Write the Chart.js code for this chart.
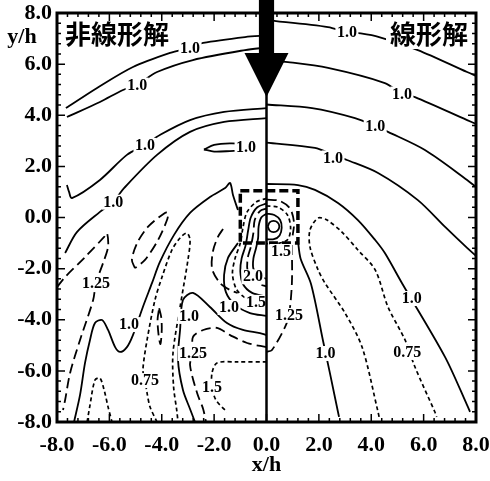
<!DOCTYPE html>
<html>
<head>
<meta charset="utf-8">
<script src="https://cdn.jsdelivr.net/npm/chart.js@4.4.0/dist/chart.umd.min.js"></script>
<style>
  html, body { margin: 0; padding: 0; background: #fff; }
</style>
</head>
<body>
<canvas id="contour" width="490" height="481"></canvas>
<script>
// axis ticks (x/h, y/h)
const xTicks = [-8, -6, -4, -2, 0, 2, 4, 6, 8];
const yTicks = [-8, -6, -4, -2, 0, 2, 4, 6, 8];

// left half: 非線形解 contours, [x/h, y/h]
const nlA = [[-7.66,4.28],[-6.47,5.07],[-5.10,5.89],[-3.68,6.44],[-2.90,6.65],[-2.42,6.83],[-0.82,7.06],[0,7.12]];
const nlB = [[-7.62,3.93],[-6.36,4.52],[-5.48,4.99],[-4.94,5.20],[-4.18,5.69],[-2.81,6.16],[-0.82,6.55],[0,6.65]];
const nlC = [[-7.62,1.27],[-7.54,1.0],[-7.43,0.76],[-6.36,1.47],[-5.33,2.45],[-4.64,2.84],[-4.07,3.23],[-2.92,3.81],[-1.62,4.13],[0,4.28]];
const nlD = [[-7.69,-1.39],[-7.24,-0.57],[-6.36,0.22],[-5.85,0.62],[-5.44,1.15],[-4.18,2.45],[-2.92,3.35],[-1.62,3.74],[0,3.89]];
const nlLoop = [[-2.39,2.66],[-2.0,2.84],[-1.4,2.90],[-0.8,2.86],[-0.6,2.76],[-0.8,2.64],[-1.4,2.60],[-2.0,2.58],[-2.39,2.66]];
const nlBump = [[-7.35,-8.0],[-7.12,-6.94],[-6.93,-5.69],[-6.74,-4.79],[-6.55,-4.13],[-6.28,-4.01],[-6.05,-4.40],[-5.78,-5.07],[-5.59,-5.26],[-5.33,-5.07],[-5.10,-4.60],[-4.72,-3.50],[-4.37,-2.56],[-4.07,-1.74],[-3.53,-0.68],[-2.92,0.18],[-2.16,0.80],[-1.58,1.15],[-1.39,1.35],[-1.28,0.88],[-1.09,0.29]];
const nlPeak = [[0,-4.60],[-0.25,-4.52],[-0.90,-4.40],[-1.51,-4.13],[-2.16,-3.50],[-2.81,-2.95],[-3.19,-3.23],[-3.30,-4.40],[-3.38,-5.57],[-3.19,-6.75],[-2.92,-7.49],[-2.73,-8.0]];
const nlU2 = [[0,0.55],[-0.35,0.4],[-0.6,0.0],[-0.7,-0.5],[-0.8,-1.1],[-0.95,-1.6],[-1.0,-2.1],[-0.9,-2.6],[-0.55,-2.95],[0,-3.1]];
const nlU4 = [[0,0.15],[-0.2,0.0],[-0.3,-0.35],[-0.32,-0.8],[-0.4,-1.2],[-0.5,-1.6],[-0.5,-2.0],[-0.3,-2.3],[0,-2.4]];
const nlC2 = [[-1.09,-1.0],[-1.47,-1.58],[-1.62,-2.25],[-1.55,-2.92],[-1.2,-3.42],[-0.63,-3.74],[0,-3.85]];

const nlDashLoop = [[-5.02,-1.98],[-5.14,-1.66],[-4.94,-1.00],[-4.53,-0.37],[-3.88,0.18],[-3.76,0.18],[-3.80,-0.10],[-4.14,-0.88],[-4.64,-1.66],[-5.02,-1.98]];
const nl125a = [[-8.0,-2.72],[-7.69,-2.33],[-6.93,-1.55],[-6.20,-0.76],[-6.09,-0.61],[-6.05,-1.15],[-6.24,-1.78],[-6.51,-2.56],[-6.62,-3.23],[-7.12,-4.79],[-7.50,-6.08],[-7.69,-7.14],[-7.77,-7.53]];
const nlSmallLoop = [[-4.10,-3.55],[-4.02,-3.9],[-4.0,-4.4],[-4.05,-4.95],[-4.12,-4.6],[-4.16,-4.0],[-4.10,-3.55]];
const nl125b = [[0,-5.07],[-0.74,-4.91],[-1.39,-4.60],[-1.89,-4.32],[-2.42,-4.40],[-2.81,-4.68],[-2.81,-5.30],[-2.92,-5.77],[-2.65,-6.87],[-2.42,-7.49],[-2.31,-8.0]];
const nlU3 = [[0,0.35],[-0.25,0.25],[-0.45,-0.1],[-0.5,-0.6],[-0.6,-1.15],[-0.72,-1.6],[-0.72,-2.1],[-0.5,-2.5],[0,-2.7]];
const nlC1 = [[-1.66,-0.45],[-1.85,-0.75],[-2.04,-1.3],[-2.08,-2.0],[-1.78,-2.56],[-1.39,-2.84],[-1.1,-2.95]];

const nl075 = [[-4.18,-8.0],[-4.45,-7.4],[-4.56,-6.87],[-4.64,-6.36],[-4.72,-5.97],[-4.56,-4.79],[-4.26,-3.23],[-3.99,-2.33],[-3.61,-1.27],[-3.30,-0.80],[-3.04,-0.61],[-2.92,-0.88],[-3.0,-1.66],[-3.30,-3.50],[-3.57,-5.30],[-3.55,-6.6],[-3.42,-7.6],[-3.38,-8.0]];
const nlFoot = [[-6.85,-8.0],[-6.74,-7.34],[-6.55,-6.36],[-6.36,-6.28],[-6.20,-6.75],[-6.05,-7.41],[-5.90,-8.0]];
const nl15 = [[0,-5.65],[-1.13,-5.65],[-1.89,-5.69],[-2.08,-6.08],[-2.08,-6.63],[-1.93,-7.14],[-1.51,-7.61]];
const nlU1 = [[0,0.75],[-0.4,0.6],[-0.75,0.2],[-0.9,-0.4],[-1.0,-1.0],[-1.2,-1.6],[-1.3,-2.2],[-1.15,-2.8],[-0.8,-3.15],[-0.3,-3.28],[0,-3.3]];

// right half: 線形解 contours
const lnA = [[0,7.72],[2.35,7.45],[3.07,7.25],[3.6,7.2],[4.3,7.06],[5.78,6.55],[7.66,5.69],[8.0,5.54]];
const lnB = [[0,6.15],[0.82,6.08],[2.35,5.85],[4.52,5.26],[5.17,4.85],[5.67,4.71],[7.66,3.81],[8.0,3.66]];
const lnC = [[0,4.42],[1.74,4.28],[3.38,3.89],[4.15,3.58],[4.64,3.35],[6.05,2.64],[7.66,1.47],[8.0,1.19]];
const lnD = [[0,2.93],[1.85,2.72],[2.54,2.45],[3.07,2.25],[4.26,1.74],[5.78,0.68],[6.82,-0.37],[7.66,-1.19],[8.0,-1.5]];
const lnE = [[0,1.31],[1.2,1.27],[1.85,1.08],[2.73,0.57],[3.49,-0.10],[4.15,-0.88],[4.52,-1.39],[5.17,-2.56],[6.82,-5.46],[7.66,-7.34],[7.77,-7.6]];
const lnInner = [[1.2,-0.9],[1.3,-1.6],[1.7,-2.6],[2.16,-4.83],[2.42,-6.08],[2.73,-7.61],[2.77,-7.8]];
const lnRing1 = [[0.05,-0.35],[0.12,-0.19],[0.27,-0.13],[0.42,-0.19],[0.49,-0.35],[0.42,-0.51],[0.27,-0.57],[0.12,-0.51],[0.05,-0.35]];
const lnRing2 = [[0,0.15],[0.3,0.1],[0.52,-0.1],[0.58,-0.4],[0.5,-0.7],[0.28,-0.85],[0,-0.85]];
const ln125 = [[0.97,-1.08],[0.97,-2.56],[0.86,-3.81],[0.71,-4.28],[0.21,-5.18],[0,-5.26]];
const lnRing4 = [[0,0.7],[0.5,0.65],[0.9,0.35],[1.05,-0.2],[1.0,-0.7]];
const ln075 = [[4.3,-7.8],[4.26,-7.61],[3.65,-5.07],[3.0,-3.74],[2.23,-2.56],[1.97,-2.05],[1.66,-1.15],[1.66,-0.49],[1.97,-0.02],[2.31,-0.10],[2.88,-0.57],[3.49,-1.27],[4.15,-2.05],[4.64,-3.50],[5.29,-4.79],[5.67,-5.85],[6.43,-7.61],[6.5,-7.8]];
const lnRing3 = [[0,0.45],[0.45,0.4],[0.8,0.1],[0.92,-0.4],[0.82,-0.85],[0.5,-1.0],[0,-1.02]];

// building footprint (dashed square)
const building = [[-1.0,1.05],[1.2,1.05],[1.2,-1.0],[-1.0,-1.0],[-1.0,1.05]];

// arrow (x/h, y/h)
const arrowShape = [[-0.29,8.6],[0.29,8.6],[0.29,6.44],[0.84,6.44],[0,4.71],[-0.84,6.44],[-0.29,6.44]];

// contour labels
const labelText = ['1.0','1.0','1.0','1.0','1.0','1.0','1.25','0.75','1.0','1.25','1.5','1.0','1.5','2.0',
                   '1.0','1.0','1.0','1.0','1.0','1.0','0.75','1.25','1.5'];
const labelX = [-2.92,-4.94,-4.64,-5.85,-0.78,-5.25,-6.51,-4.64,-2.96,-2.81,-2.08,-1.43,-0.4,-0.52,
                3.07,5.17,4.15,2.54,5.55,2.25,5.37,0.86,0.55];
const labelY = [6.65,5.20,2.84,0.62,2.76,-4.17,-2.56,-6.36,-3.85,-5.30,-6.63,-3.5,-3.3,-2.3,
                7.25,4.85,3.58,2.35,-3.15,-5.3,-5.26,-3.81,-1.31];

const solidLines = [nlA, nlB, nlC, nlD, nlLoop, nlBump, nlPeak, nlU2, nlU4, nlC2, lnA, lnB, lnC, lnD, lnE, lnInner, lnRing1, lnRing2];
const longDashLines = [nlDashLoop, nl125a, nlSmallLoop, nl125b, nlU3, nlC1, ln125, lnRing4];
const shortDashLines = [nl075, nlFoot, nl15, nlU1, ln075, lnRing3];

function toXY(pts) {
    return pts.map(p => ({ x: p[0], y: p[1] }));
}

function makeSet(pts, dash, width) {
    return {
        data: toXY(pts),
        showLine: true,
        borderColor: '#000',
        borderWidth: width,
        borderDash: dash,
        pointRadius: 0,
        tension: 0.3,
        fill: false
    };
}

let datasets = [];
solidLines.forEach(l => datasets.push(makeSet(l, [], 1.8)));
longDashLines.forEach(l => datasets.push(makeSet(l, [10, 5], 1.8)));
shortDashLines.forEach(l => datasets.push(makeSet(l, [4, 3], 1.7)));
let sq = makeSet(building, [9, 4], 3.5);
sq.tension = 0;
datasets.push(sq);

const serif = '"Liberation Serif", "Times New Roman", serif';

const overlay = {
    id: 'overlay',
    afterDatasetsDraw(chart) {
        const ctx = chart.ctx;
        const a = chart.chartArea;
        const xs = chart.scales.x, ys = chart.scales.y;
        const px = v => xs.getPixelForValue(v);
        const py = v => ys.getPixelForValue(v);
        ctx.save();

        // contour labels on white
        ctx.font = 'bold 16px ' + serif;
        ctx.textAlign = 'center';
        ctx.textBaseline = 'middle';
        for (let i = 0; i < labelText.length; i++) {
            let cx = px(labelX[i]), cy = py(labelY[i]);
            let w = ctx.measureText(labelText[i]).width + 3;
            ctx.fillStyle = '#fff';
            ctx.fillRect(cx - w / 2, cy - 7, w, 15);
            ctx.fillStyle = '#000';
            ctx.fillText(labelText[i], cx, cy + 1);
        }

        // panel titles
        ctx.font = 'bold 26px "Noto Sans CJK JP"';
        ctx.textBaseline = 'middle';
        ctx.textAlign = 'left';
        let w1 = ctx.measureText('非線形解').width;
        ctx.fillStyle = '#fff';
        ctx.fillRect(a.left + 6, a.top + 6, w1 + 4, 30);
        ctx.fillStyle = '#000';
        ctx.fillText('非線形解', a.left + 8, a.top + 21);
        ctx.textAlign = 'right';
        let w2 = ctx.measureText('線形解').width;
        ctx.fillStyle = '#fff';
        ctx.fillRect(a.right - 12 - w2, a.top + 6, w2 + 6, 30);
        ctx.fillStyle = '#000';
        ctx.fillText('線形解', a.right - 8, a.top + 21);

        // centre line x = 0
        ctx.strokeStyle = '#000';
        ctx.lineWidth = 2.5;
        ctx.beginPath();
        ctx.moveTo(px(0), a.top);
        ctx.lineTo(px(0), a.bottom);
        ctx.stroke();

        // arrow
        ctx.beginPath();
        arrowShape.forEach((p, i) => {
            if (i === 0) ctx.moveTo(px(p[0]), py(p[1]));
            else ctx.lineTo(px(p[0]), py(p[1]));
        });
        ctx.closePath();
        ctx.fillStyle = '#000';
        ctx.fill();

        // frame
        ctx.lineWidth = 3;
        ctx.strokeRect(a.left, a.top, a.right - a.left, a.bottom - a.top);

        // inward ticks on all four sides
        ctx.lineWidth = 1.5;
        ctx.beginPath();
        for (let i = 0; i <= 40; i++) {
            let v = -8 + i * 0.4;
            let len = (i % 5 === 0) ? 8 : 4;
            let x = px(v), y = py(v);
            ctx.moveTo(x, a.bottom); ctx.lineTo(x, a.bottom - len);
            ctx.moveTo(x, a.top); ctx.lineTo(x, a.top + len);
            ctx.moveTo(a.left, y); ctx.lineTo(a.left + len, y);
            ctx.moveTo(a.right, y); ctx.lineTo(a.right - len, y);
        }
        ctx.stroke();

        // axis titles
        ctx.font = 'bold 22px ' + serif;
        ctx.textAlign = 'center';
        ctx.textBaseline = 'middle';
        ctx.fillText('y/h', 22, a.top + 24);
        ctx.fillText('x/h', px(0), a.bottom + 43);

        ctx.restore();
    }
};

const tickFont = { family: serif, size: 22, weight: 'bold' };

new Chart(document.getElementById('contour'), {
    type: 'scatter',
    data: { datasets: datasets },
    options: {
        responsive: false,
        animation: false,
        layout: { padding: 0 },
        plugins: { legend: { display: false }, tooltip: { enabled: false } },
        scales: {
            x: {
                type: 'linear', min: -8, max: 8,
                afterBuildTicks: s => { s.ticks = xTicks.map(v => ({ value: v })); },
                afterFit: s => { s.height = 59; s.paddingLeft = 0; s.paddingRight = 14; },
                ticks: { callback: v => v.toFixed(1), font: tickFont, color: '#000', padding: 10, maxRotation: 0, autoSkip: false },
                grid: { display: false, drawTicks: false },
                border: { display: false }
            },
            y: {
                type: 'linear', min: -8, max: 8,
                afterBuildTicks: s => { s.ticks = yTicks.map(v => ({ value: v })); },
                afterFit: s => { s.width = 57; s.paddingTop = 13; s.paddingBottom = 0; },
                ticks: { callback: v => v.toFixed(1), font: tickFont, color: '#000', padding: 5, autoSkip: false },
                grid: { display: false, drawTicks: false },
                border: { display: false }
            }
        }
    },
    plugins: [overlay]
});
</script>
</body>
</html>
